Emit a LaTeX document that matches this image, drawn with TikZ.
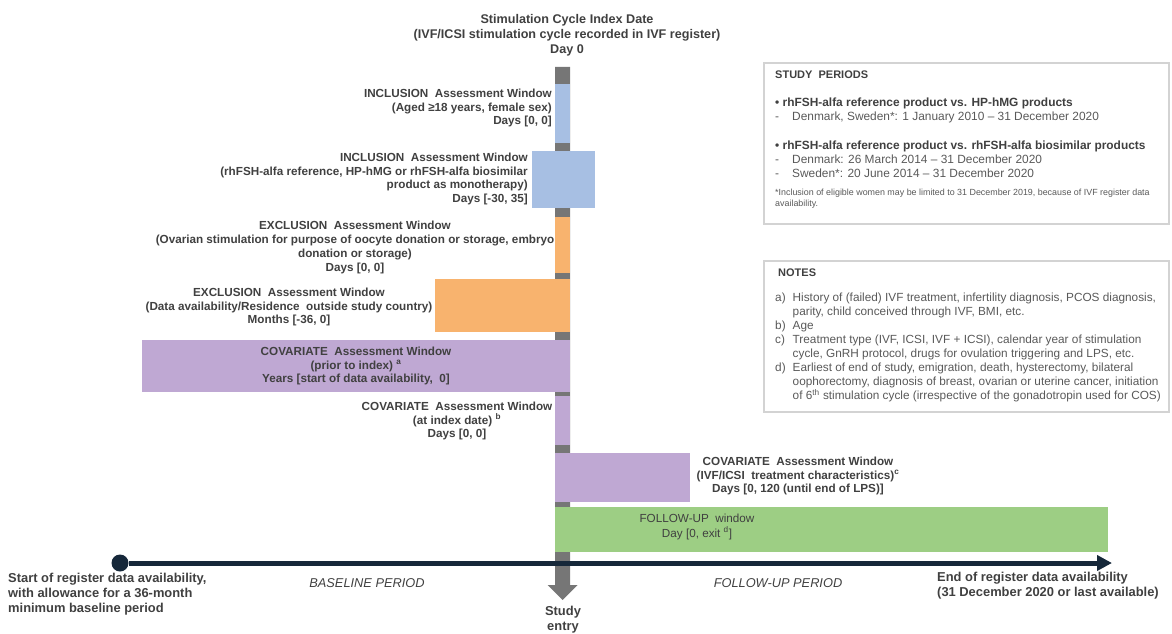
\documentclass[tikz,border=0pt]{standalone}
\usepackage{fontspec}
\setmainfont{Liberation Sans}
\usetikzlibrary{arrows.meta}
\definecolor{winblue}{HTML}{A7BFE3}
\definecolor{winorange}{HTML}{F8B36E}
\definecolor{winpurple}{HTML}{BFA8D3}
\definecolor{wingreen}{HTML}{9DCE84}
\definecolor{bargray}{HTML}{767676}
\definecolor{axisnavy}{HTML}{16283A}
\definecolor{txtgray}{HTML}{404040}
\definecolor{notegray}{HTML}{595959}
\definecolor{framegray}{HTML}{D3D3D3}
\begin{document}
\begin{tikzpicture}[x=1pt, y=-1pt,
        win/.style={font=\fontsize{11.7}{13.8}\selectfont\bfseries, text=txtgray, inner sep=0pt, align=center},
        axislbl/.style={font=\fontsize{12.9}{15}\selectfont\bfseries, text=txtgray, inner sep=0pt},
        period/.style={font=\fontsize{12.8}{15}\selectfont\itshape, text=txtgray, inner sep=0pt},
        boxhead/.style={font=\fontsize{11}{13}\selectfont\bfseries, text=txtgray, inner sep=0pt, anchor=west},
        sptext/.style={font=\fontsize{11.9}{14}\selectfont, text=notegray, inner sep=0pt, anchor=west, align=left},
        infoframe/.style={draw=framegray, line width=1.2pt}
    ]
        \useasboundingbox (0,0) rectangle (1172,634);

        % Index date bar and study entry arrow
        \fill[bargray] (555,67) -- (570,67) -- (570,585) -- (577.5,585) -- (562.5,600)
            -- (547.5,585) -- (555,585) -- cycle;

        % Assessment windows
        \fill[winblue] (555,84) rectangle (570,143);
        \fill[winblue] (532,151) rectangle (595,208);
        \fill[winorange] (555,217) rectangle (570,273);
        \fill[winorange] (435,279) rectangle (570,332);
        \fill[winpurple] (142,340) rectangle (570,392);
        \fill[winpurple] (555,396) rectangle (570,445);
        \fill[winpurple] (555,453) rectangle (690,502);
        \fill[wingreen] (555,507) rectangle (1108,552);

        % Timeline
        \node[circle, fill=axisnavy, minimum size=17pt, inner sep=0pt] (dataStart) at (120,563) {};
        \coordinate (dataEnd) at (1112,563);
        \draw[axisnavy, line width=5pt, -{Triangle[length=15pt, width=15pt]}] (dataStart) -- (dataEnd);

        % Window labels
        \node[font=\fontsize{12.6}{15}\selectfont\bfseries, text=txtgray, inner sep=0pt, align=center] (indexDate) at (567,35)
            {Stimulation Cycle Index Date\\(IVF/ICSI stimulation cycle recorded in IVF register)\\Day 0};
        \node[win, anchor=east, align=right] (inclAge) at (552,108)
            {INCLUSION\ \ Assessment Window\\(Aged ≥18 years, female sex)\\Days [0, 0]};
        \node[win, anchor=east, align=right] (inclDrug) at (528,179)
            {INCLUSION\ \ Assessment Window\\(rhFSH-alfa reference, HP-hMG or rhFSH-alfa biosimilar\\product as monotherapy)\\Days [-30, 35]};
        \node[win] (exclDonor) at (355,247.5)
            {EXCLUSION\ \ Assessment Window\\(Ovarian stimulation for purpose of oocyte donation or storage, embryo\\donation or storage)\\Days [0, 0]};
        \node[win] (exclData) at (289,307)
            {EXCLUSION\ \ Assessment Window\\(Data availability/Residence\ \ outside study country)\\Months [-36, 0]};
        \node[win] (covPrior) at (356,366)
            {COVARIATE\ \ Assessment Window\\(prior to index) \textsuperscript{a}\\Years [start of data availability,\ \ 0]};
        \node[win] (covIndex) at (457,421)
            {COVARIATE\ \ Assessment Window\\(at index date) \textsuperscript{b}\\Days [0, 0]};
        \node[win] (covTreat) at (798,476)
            {COVARIATE\ \ Assessment Window\\(IVF/ICSI\ \ treatment characteristics)\textsuperscript{c}\\Days [0, 120 (until end of LPS)]};
        \node[win, font=\fontsize{11.7}{15}\selectfont] (followWin) at (697,526.5)
            {FOLLOW-UP\ \ window\\Day [0, exit \textsuperscript{d}]};

        % Timeline labels
        \node[axislbl, anchor=west, align=left] (startLbl) at (8,594)
            {Start of register data availability,\\with allowance for a 36-month\\minimum baseline period};
        \node[period] (baseLbl) at (367,583) {BASELINE PERIOD};
        \node[axislbl, align=center] (entryLbl) at (563,620) {Study\\entry};
        \node[period] (followLbl) at (778,583) {FOLLOW-UP PERIOD};
        \node[axislbl, anchor=west, align=left] (endLbl) at (937,586)
            {End of register data availability\\(31 December 2020 or last available)};

        % Study periods box
        \draw[infoframe] (764,63) rectangle (1169,224);
        \node[boxhead] (spHead) at (775,75) {STUDY\ \ PERIODS};
        \node[sptext] (spHmg) at (775,110.5)
            {\textcolor{txtgray}{\bfseries • rhFSH-alfa reference product vs. HP-hMG products}\\
             \makebox[17pt][l]{-}Denmark, Sweden*: 1 January 2010 – 31 December 2020};
        \node[sptext] (spBio) at (775,159.5)
            {\textcolor{txtgray}{\bfseries • rhFSH-alfa reference product vs. rhFSH-alfa biosimilar products}\\
             \makebox[17pt][l]{-}Denmark: 26 March 2014 – 31 December 2020\\
             \makebox[17pt][l]{-}Sweden*: 20 June 2014 – 31 December 2020};
        \node[sptext, font=\fontsize{8.9}{11}\selectfont] (spFoot) at (775,198.5)
            {*Inclusion of eligible women may be limited to 31 December 2019, because of IVF register data\\availability.};

        % Notes box
        \draw[infoframe] (764,261) rectangle (1169,412);
        \node[boxhead] (notesHead) at (778,273) {NOTES};
        \node[anchor=north west, inner sep=0pt, font=\fontsize{11.8}{13.9}\selectfont, text=notegray] (notesList) at (775,292)
            {\begin{tabular}{@{}l@{\hspace{7pt}}l@{}}
             a) & History of (failed) IVF treatment, infertility diagnosis, PCOS diagnosis,\\
                & parity, child conceived through IVF, BMI, etc.\\
             b) & Age\\
             c) & Treatment type (IVF, ICSI, IVF + ICSI), calendar year of stimulation\\
                & cycle, GnRH protocol, drugs for ovulation triggering and LPS, etc.\\
             d) & Earliest of end of study, emigration, death, hysterectomy, bilateral\\
                & oophorectomy, diagnosis of breast, ovarian or uterine cancer, initiation\\
                & of 6\textsuperscript{th} stimulation cycle (irrespective of the gonadotropin used for COS)
             \end{tabular}};
    \end{tikzpicture}
\end{document}
